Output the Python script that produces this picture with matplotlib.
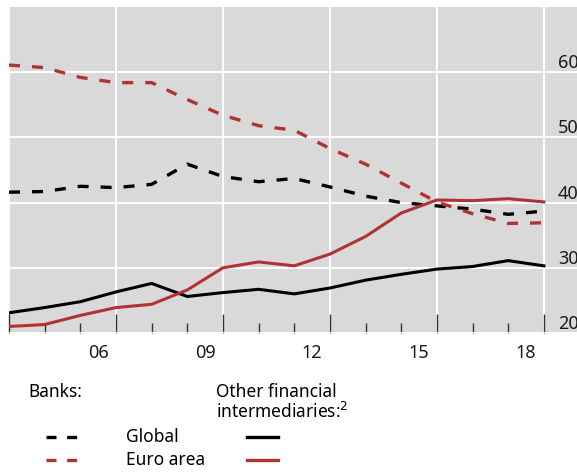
import matplotlib
matplotlib.use("Agg")
import matplotlib.pyplot as plt
from matplotlib.lines import Line2D

plt.rcParams['font.family'] = ['Noto Sans', 'DejaVu Sans']

# annual values, plotted at year-end positions
years = list(range(2004, 2020))
banks_global = [41.6, 41.7, 42.5, 42.3, 42.8, 45.9, 44.0, 43.2, 43.7, 42.4, 41.0,
                40.0, 39.5, 39.0, 38.2, 38.7]
banks_euro = [61.1, 60.7, 59.2, 58.4, 58.4, 55.8, 53.4, 51.8, 51.1, 48.3, 45.9,
              43.0, 40.1, 38.3, 36.8, 36.9]
ofi_global = [23.1, 23.9, 24.8, 26.3, 27.6, 25.6, 26.2, 26.7, 26.0, 26.9, 28.1,
              29.0, 29.8, 30.2, 31.1, 30.3]
ofi_euro = [21.0, 21.3, 22.7, 23.9, 24.4, 26.6, 30.0, 30.9, 30.3, 32.1, 34.8,
            38.4, 40.4, 40.3, 40.6, 40.1]

year_labels = ['06', '09', '12', '15', '18']
label_pos = [2006.5, 2009.5, 2012.5, 2015.5, 2018.5]
y_ticks = [20, 30, 40, 50, 60]

red = '#b03234'
dash = (3.3, 3.6)

fig = plt.figure(figsize=(5.77, 4.72), dpi=100)
ax = fig.add_axes([9 / 577, 139 / 472, 1 - 9 / 577, 326 / 472])
ax.set_facecolor('#d9d9d9')
for s in ax.spines.values():
    s.set_visible(False)

ax.set_xlim(2004, 2019.93)
ax.set_ylim(20, 70)

ax.plot(years, banks_global, color='black', lw=2.4, dashes=dash)
ax.plot(years, banks_euro, color=red, lw=2.4, dashes=dash)
ax.plot(years, ofi_global, color='black', lw=2.2)
ax.plot(years, ofi_euro, color=red, lw=2.2)

# gridlines and ticks
ax.set_xticks(list(range(2004, 2020, 3)))
ax.set_xticks(years, minor=True)
ax.set_yticks(y_ticks)
ax.grid(True, color='white', lw=1.4)
ax.set_axisbelow(True)
ax.tick_params(axis='x', which='major', direction='in', length=14, width=1,
               color='#333333', labelbottom=False)
ax.tick_params(axis='x', which='minor', direction='in', length=7, width=1,
               color='#333333')
ax.tick_params(axis='y', length=0, labelleft=False)

for lab, p in zip(year_labels, label_pos):
    ax.annotate(lab, xy=(p, 0), xycoords=('data', 'axes fraction'),
                xytext=(0, -20), textcoords='offset pixels',
                ha='center', va='center', fontsize=13, color='#1a1a1a')
for v in y_ticks:
    ax.annotate(str(v), xy=(1, v), xycoords=('axes fraction', 'data'),
                xytext=(-19, 4), textcoords='offset pixels',
                ha='left', va='baseline', fontsize=13, color='#1a1a1a',
                annotation_clip=False)

# legend drawn by hand
def fy(py):
    return (472 - py) / 472

def fx(px):
    return px / 577

fig.text(fx(28), fy(392), 'Banks:', ha='left', va='center', fontsize=12.5)
fig.text(fx(216), fy(392), 'Other financial', ha='left', va='center', fontsize=12.5)
fig.text(fx(216), fy(412), 'intermediaries:$^{2}$', ha='left', va='center', fontsize=12.5)
fig.text(fx(126), fy(437), 'Global', ha='left', va='center', fontsize=12.5)
fig.text(fx(126), fy(460), 'Euro area', ha='left', va='center', fontsize=12.5)

for py, c in [(437, 'black'), (460, red)]:
    fig.add_artist(Line2D([fx(46), fx(77)], [fy(py), fy(py)], color=c, lw=2.4,
                          dashes=(3.0, 3.2)))
    fig.add_artist(Line2D([fx(247), fx(278)], [fy(py), fy(py)], color=c, lw=2.4))

fig.savefig('out.png', dpi=100)
